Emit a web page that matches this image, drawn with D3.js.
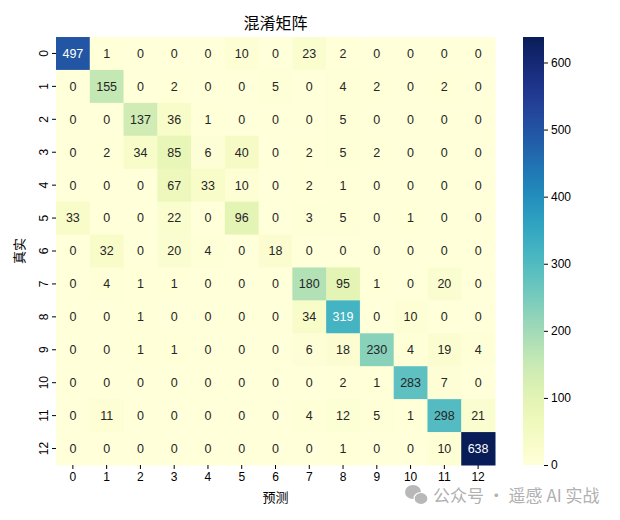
<!DOCTYPE html>
<html><head><meta charset="utf-8">
<script src="https://cdn.jsdelivr.net/npm/d3@7"></script>
<style>body{margin:0;background:#fff}</style>
</head><body>
<svg id="c" width="620" height="520"></svg>
<script>
const categories = ["0","1","2","3","4","5","6","7","8","9","10","11","12"];
const row0  = [497,1,0,0,0,10,0,23,2,0,0,0,0];
const row1  = [0,155,0,2,0,0,5,0,4,2,0,2,0];
const row2  = [0,0,137,36,1,0,0,0,5,0,0,0,0];
const row3  = [0,2,34,85,6,40,0,2,5,2,0,0,0];
const row4  = [0,0,0,67,33,10,0,2,1,0,0,0,0];
const row5  = [33,0,0,22,0,96,0,3,5,0,1,0,0];
const row6  = [0,32,0,20,4,0,18,0,0,0,0,0,0];
const row7  = [0,4,1,1,0,0,0,180,95,1,0,20,0];
const row8  = [0,0,1,0,0,0,0,34,319,0,10,0,0];
const row9  = [0,0,1,1,0,0,0,6,18,230,4,19,4];
const row10 = [0,0,0,0,0,0,0,0,2,1,283,7,0];
const row11 = [0,11,0,0,0,0,0,4,12,5,1,298,21];
const row12 = [0,0,0,0,0,0,0,0,1,0,0,10,638];
const matrix = [row0,row1,row2,row3,row4,row5,row6,row7,row8,row9,row10,row11,row12];
const colorTicks = [0,100,200,300,400,500,600];
const title = "混淆矩阵", xLabel = "预测", yLabel = "真实";
const watermark = "公众号 · 遥感 AI 实战";

const svg = d3.select("#c");
const L = 56, R = 495, T = 37, B = 465;
const cjk = "'Noto Sans CJK SC', sans-serif";
const num = "'Liberation Sans', Arial, sans-serif";

const x = d3.scaleBand().domain(categories).range([L, R]);
const y = d3.scaleBand().domain(categories).range([T, B]);
const vmax = d3.max(matrix.flat());
const color = d3.scaleSequential(d3.interpolateYlGnBu).domain([0, vmax]);

const cells = [];
matrix.forEach((r, i) => r.forEach((v, j) => cells.push({i, j, v})));

svg.append("g").selectAll("rect").data(cells).join("rect")
  .attr("x", d => x(categories[d.j])).attr("y", d => y(categories[d.i]))
  .attr("width", x.bandwidth() + 0.5).attr("height", y.bandwidth() + 0.5)
  .attr("fill", d => color(d.v));

function lum(c) {
  const rgb = d3.rgb(c);
  const f = v => { v /= 255; return v <= 0.03928 ? v / 12.92 : Math.pow((v + 0.055) / 1.055, 2.4); };
  return 0.2126 * f(rgb.r) + 0.7152 * f(rgb.g) + 0.0722 * f(rgb.b);
}
svg.append("g").selectAll("text").data(cells).join("text")
  .attr("x", d => x(categories[d.j]) + x.bandwidth() / 2)
  .attr("y", d => y(categories[d.i]) + y.bandwidth() / 2)
  .attr("dy", "0.35em").attr("text-anchor", "middle")
  .attr("font-family", num).attr("font-size", 12.5)
  .attr("fill", d => lum(color(d.v)) > 0.408 ? "#262626" : "#ffffff")
  .text(d => d.v);

// axes
const xa = svg.append("g").attr("transform", `translate(0,${B})`)
  .call(d3.axisBottom(x).tickSize(4).tickPadding(3));
xa.select(".domain").remove();
xa.selectAll("text").attr("font-family", num).attr("font-size", 12).attr("fill", "#000");
xa.selectAll("line").attr("stroke", "#000");

const ya = svg.append("g").attr("transform", `translate(${L},0)`)
  .call(d3.axisLeft(y).tickSize(4).tickPadding(3));
ya.select(".domain").remove();
ya.selectAll("line").attr("stroke", "#000");
ya.selectAll(".tick text").attr("font-family", num).attr("font-size", 12).attr("fill", "#000")
  .attr("text-anchor", "middle").attr("x", null).attr("dy", "0.35em")
  .attr("transform", "translate(-12,0) rotate(-90)");

svg.append("text").attr("x", (L + R) / 2).attr("y", 29).attr("text-anchor", "middle")
  .attr("font-family", cjk).attr("font-size", 16).attr("fill", "#000").text(title);
svg.append("text").attr("x", (L + R) / 2).attr("y", 502).attr("text-anchor", "middle")
  .attr("font-family", cjk).attr("font-size", 13).attr("fill", "#000").text(xLabel);
svg.append("text").attr("transform", `translate(24,${(T + B) / 2}) rotate(-90)`).attr("text-anchor", "middle")
  .attr("font-family", cjk).attr("font-size", 13).attr("fill", "#000").text(yLabel);

// colorbar
const cbX = 523, cbW = 21;
const cy = d3.scaleLinear().domain([0, vmax]).range([B, T]);
const grad = svg.append("defs").append("linearGradient").attr("id", "g")
  .attr("x1", 0).attr("y1", 1).attr("x2", 0).attr("y2", 0);
d3.range(0, 1.0001, 0.02).forEach(t => grad.append("stop").attr("offset", t).attr("stop-color", color(t * vmax)));
svg.append("rect").attr("x", cbX).attr("y", T).attr("width", cbW).attr("height", B - T).attr("fill", "url(#g)");
const ca = svg.append("g").attr("transform", `translate(${cbX + cbW},0)`)
  .call(d3.axisRight(cy).tickValues(colorTicks).tickSize(4).tickPadding(3));
ca.select(".domain").remove();
ca.selectAll("line").attr("stroke", "#000");
ca.selectAll("text").attr("font-family", num).attr("font-size", 12).attr("fill", "#000");

// watermark
const wm = svg.append("g").attr("fill", "#b8b8b8");
wm.append("ellipse").attr("cx", 413).attr("cy", 492).attr("rx", 8).attr("ry", 7);
wm.append("ellipse").attr("cx", 421).attr("cy", 498.5).attr("rx", 7).attr("ry", 6).attr("stroke", "#fff").attr("stroke-width", 1.2);
svg.append("text").attr("x", 433).attr("y", 502).attr("font-family", cjk).attr("font-size", 17)
  .attr("fill", "#b0b0b0").text(watermark);
</script>
</body></html>
